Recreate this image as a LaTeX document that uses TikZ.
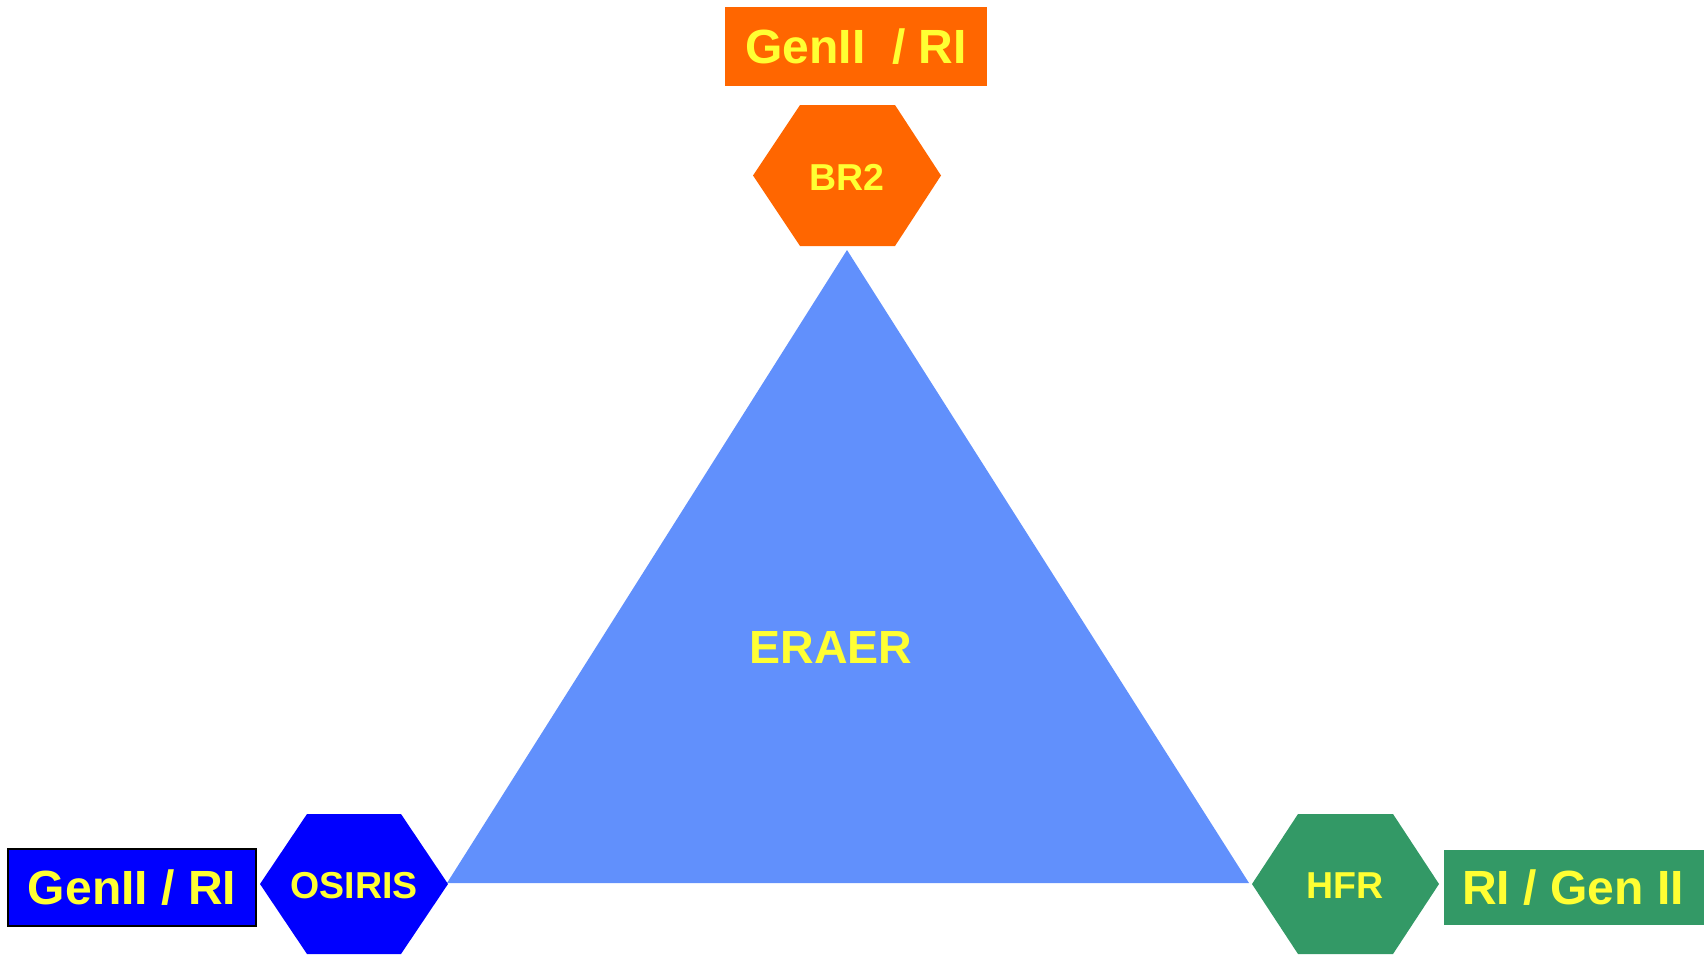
\documentclass[tikz,border=0pt]{standalone}
\usepackage{fontspec}
\setmainfont{Liberation Sans}
\definecolor{orng}{HTML}{FF6600}
\definecolor{blu}{HTML}{0000FF}
\definecolor{grn}{HTML}{339966}
\definecolor{tri}{HTML}{6190FC}
\definecolor{yel}{HTML}{FFFF33}
\tikzset{
  lbl/.style={text=yel, font=\bfseries\fontsize{48}{52}\selectfont, inner sep=0pt},
  hexlbl/.style={text=yel, font=\bfseries\fontsize{37.5}{40}\selectfont, inner sep=0pt},
}
\begin{document}
\begin{tikzpicture}[x=1pt,y=-1pt]
\useasboundingbox (0,0) rectangle (1707,954);
% triangle
\fill[tri] (847,250) -- (1249,883) -- (447,883) -- cycle;
\node[text=yel, font=\bfseries\fontsize{46.5}{50}\selectfont, inner sep=0pt] (eraer) at (831,647) {ERAER};
% top
\fill[orng] (725,7) rectangle (987,86);
\node[lbl] (topbox) at (856,47) {GenII\ \ / RI};
\fill[orng] (753,175.5) -- (800,105) -- (895,105) -- (941,175.5) -- (895,246) -- (800,246) -- cycle;
\node[hexlbl] (br2) at (847,177) {BR2};
% left
\fill[blu] (260,884) -- (307,814) -- (401,814) -- (448,884) -- (401,954) -- (307,954) -- cycle;
\node[hexlbl] (osiris) at (354,886) {OSIRIS};
\filldraw[fill=blu, draw=black, line width=2pt] (8,849) rectangle (256,926);
\node[lbl] (leftbox) at (132,888) {GenII / RI};
% right
\fill[grn] (1252,884) -- (1298,814) -- (1393,814) -- (1439,884) -- (1393,954) -- (1298,954) -- cycle;
\node[hexlbl] (hfr) at (1345,886) {HFR};
\fill[grn] (1444,850) rectangle (1704,925);
\node[lbl] (rightbox) at (1573,888) {RI / Gen II};
\end{tikzpicture}
\end{document}
